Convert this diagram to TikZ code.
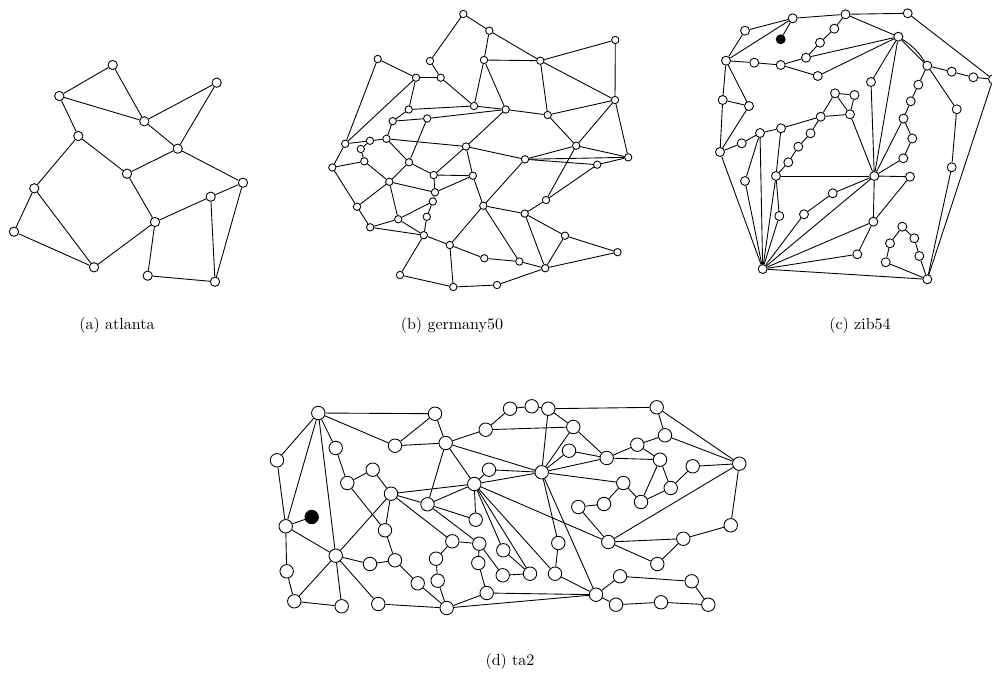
\documentclass[tikz,border=0pt]{standalone}
\begin{document}
\begin{tikzpicture}[x=0.625pt,y=-0.625pt,line width=0.55pt,
    vtx/.style={circle,draw,fill=white,inner sep=0pt},
    atl/.style={vtx,minimum size=5.8pt},
    ger/.style={vtx,minimum size=4.6pt},
    zib/.style={vtx,minimum size=5.6pt},
    tat/.style={vtx,minimum size=8.4pt},
    blk/.style={fill=black}]
  \useasboundingbox (0,0) rectangle (992,680);
  % (a) atlanta
  \foreach \n/\x/\y in {1/112.7/65,2/216.7/82.7,3/59.3/96,4/144.3/121.3,5/78.3/136,
      6/177.7/148.7,7/127/173.7,8/243/182.7,9/34.3/188.3,10/210.7/196.7,11/155/222,
      12/14/231.7,13/94/267.3,14/147.7/275.7,15/215/281.7}
    \node[atl] (a\n) at (\x,\y) {};
  \foreach \u/\v in {1/3,1/4,3/4,4/2,2/6,4/6,3/5,5/7,5/9,6/7,6/8,7/11,9/12,9/13,
      12/13,13/11,11/10,10/8,11/14,14/15,10/15,8/15}
    \draw (a\u) -- (a\v);
  \node (capa) at (117,325) {(a) atlanta};
  % (b) germany50
  \foreach \n/\x/\y in {1/463.3/14,2/489.3/30.7,3/615.3/40,4/377.7/59,5/430/61,
      6/484/60,7/540.3/60.7,8/416/77.7,9/440.7/77.7,10/615/100,11/474/106,
      12/505.7/109.5,13/408.7/109.5,14/547.7/115,15/427.2/118.5,16/392.7/121.2,
      17/386.5/138.8,18/370/140.8,19/345.2/143.8,20/360.8/149,21/466/146.5,
      22/576.2/145.7,23/628.2/157.3,24/525/159.3,25/364.3/161.3,26/409/162.3,
      27/332.3/167.5,28/597.2/164.7,29/433.7/175,30/472.8/175.7,31/389.3/181.8,
      32/435/192.3,33/546/200,34/432.8/201.5,35/357/206.7,36/483.3/205.7,
      37/524.7/213.6,38/426.8/216.8,39/398.2/219.2,40/370.2/227.3,41/423.8/235.2,
      42/565/235.7,43/449.8/245,44/617.5/252.2,45/484.3/258.3,46/519.3/261.5,
      47/545.2/268.2,48/400/275,49/497/285,50/453.3/287}
    \node[ger] (b\n) at (\x,\y) {};
  \foreach \u/\v in {1/2,1/5,2/6,2/7,5/9,8/9,9/11,6/7,6/11,6/12,7/3,7/10,7/14,3/10,
      4/8,4/19,8/19,8/13,13/11,13/16,11/12,15/12,12/14,14/10,14/22,10/22,10/23,
      16/15,16/17,17/18,18/19,18/20,20/25,17/21,17/26,15/26,25/27,19/27,25/31,
      26/31,26/29,29/30,29/21,29/32,21/30,30/36,31/32,32/30,27/35,35/31,35/40,
      31/39,39/40,39/34,40/41,39/41,38/41,34/38,32/34,41/43,36/43,12/21,21/24,
      24/22,22/23,24/23,24/28,28/23,22/33,33/28,33/37,24/36,36/37,37/42,37/47,
      42/47,42/44,47/44,36/46,46/47,43/45,45/46,43/50,41/48,48/50,50/49,49/47}
    \draw (b\u) -- (b\v);
  \node (capb) at (452,325) {(b) germany50};
  % (c) zib54
  \foreach \n/\x/\y in {1/792.7/18.3,2/845.5/14.3,3/907.7/13.3,4/745/30.7,
      6/834.3/28.7,7/898.3/36.7,8/820/42.7,9/806/57.7,10/726/60.7,11/754.3/62.7,
      12/780.7/65,13/927.3/65.7,14/951.7/71.7,15/973.3/77.3,16/993/79.3,
      17/817.7/76,18/871/82,19/918.3/84.7,20/835/93.3,21/854.5/95,22/722.7/100,
      23/910.7/101.3,24/749/106,25/956.7/109.3,26/850/114.3,27/820.7/116.7,
      28/903.5/118.5,29/781/128.3,30/810.5/133.3,31/760/133,32/912.3/138.5,
      33/741.7/143.3,34/798.3/146.7,35/720/152,36/903.3/158.3,37/788.3/162.3,
      38/951.7/167.3,39/776/176,40/874.3/176,41/910/176.7,42/745/181,
      43/804/214.3,44/779.3/216,45/873.3/221.7,46/902.3/226.7,47/914.3/238.3,
      48/890/243.3,49/857.3/254.3,50/919.3/256,51/885.7/262.3,52/762.7/269,
      53/927.3/279.3,54/832.7/193.3}
    \node[zib] (c\n) at (\x,\y) {};
  \node[zib,blk] (c5) at (780.7,39.3) {};
  \foreach \u/\v in {1/4,1/10,1/5,1/2,4/10,2/6,6/8,8/9,9/12,12/11,11/10,12/17,
      7/9,7/17,2/7,2/3,3/16,7/13,7/18,7/40,13/14,14/15,15/16,16/53,13/19,19/23,
      23/28,28/32,32/36,36/40,28/40,13/25,25/38,38/53,18/40,10/22,10/24,22/24,
      22/35,24/35,35/33,33/31,31/29,29/27,27/20,20/21,21/26,20/26,27/26,26/40,
      27/30,30/34,34/37,37/39,29/39,39/40,39/44,39/52,31/52,31/42,42/52,35/52,
      44/52,43/52,43/54,54/40,40/52,45/52,49/52,49/45,45/40,45/41,40/41,52/53,
      51/53,50/53,46/47,47/50,46/48,48/51}
    \draw (c\u) -- (c\v);
  \draw (c7) to[bend left=12] (c13);
  \node (capc) at (860,325) {(c) zib54};
  % (d) ta2
  \foreach \n/\x/\y in {1/318.3/413,2/435/413.7,3/277/460.3,4/335.7/448,5/395/445.7,
      6/372.7/469.7,7/347.3/483,8/391/493.7,9/427.5/504.3,10/285.7/526.3,
      11/385/530.3,12/335.7/555.7,13/370/564,14/395/560.3,15/286.7/571.3,
      16/417.7/583.3,17/294.3/601.3,18/341.7/606.3,19/378.3/604,20/510/408.7,
      21/531.7/406.3,22/548.3/408.7,23/485.7/429.7,24/573.3/427,25/445.7/443,
      26/569/450.7,27/489/469.7,28/541.7/472.3,29/474.3/484,30/578.3/507,
      31/475.7/519.7,32/452.3/541.3,33/479.3/543.7,34/503.3/550.3,35/558.3/543,
      36/436/558.7,37/478.3/563,38/502.7/575.3,39/530/573.7,40/555/573.7,
      41/437.7/580.7,42/486.7/593,43/446.7/608,44/596/594.7,45/608.3/542,
      46/656.7/407.3,47/665/435.3,48/637.3/444.7,49/606.7/458,50/660/459.7,
      51/739.3/463.7,52/692.7/466.3,53/623.3/483,54/670.7/488,55/641/502,
      56/604/504,57/730.7/525.3,58/683.3/538.7,59/657.3/564,60/620/576.3,
      61/691.7/581.3,62/616/604.7,63/661/602.3,64/708.3/604.7}
    \node[tat] (d\n) at (\x,\y) {};
  \node[tat,blk] (d0) at (311.7,517) {};
  \foreach \u/\v in {1/2,1/5,5/2,5/25,1/3,1/10,1/4,1/12,3/10,4/7,7/6,6/8,7/11,8/11,
      11/14,8/12,8/9,8/29,8/32,10/0,10/12,10/15,15/17,17/12,17/18,12/18,12/13,
      13/14,12/19,14/16,16/43,19/43,2/25,25/23,23/20,20/21,21/22,23/24,22/24,
      22/46,22/28,24/28,24/49,26/28,26/49,28/49,28/53,25/28,25/29,25/9,27/28,
      27/29,29/28,29/31,29/9,29/34,29/39,29/40,29/45,34/39,38/39,33/38,35/40,
      28/35,28/44,40/44,9/31,9/33,32/33,32/36,36/41,41/43,33/37,37/42,42/43,
      43/44,42/44,46/47,46/51,47/51,47/48,48/49,48/50,49/50,50/55,50/54,54/55,
      54/52,52/51,53/55,53/56,56/30,30/45,45/51,45/58,45/59,58/59,58/57,57/51,
      44/60,60/61,61/64,44/62,62/63,63/64}
    \draw (d\u) -- (d\v);
  \node (capd) at (510,661) {(d) ta2};
\end{tikzpicture}
\end{document}
